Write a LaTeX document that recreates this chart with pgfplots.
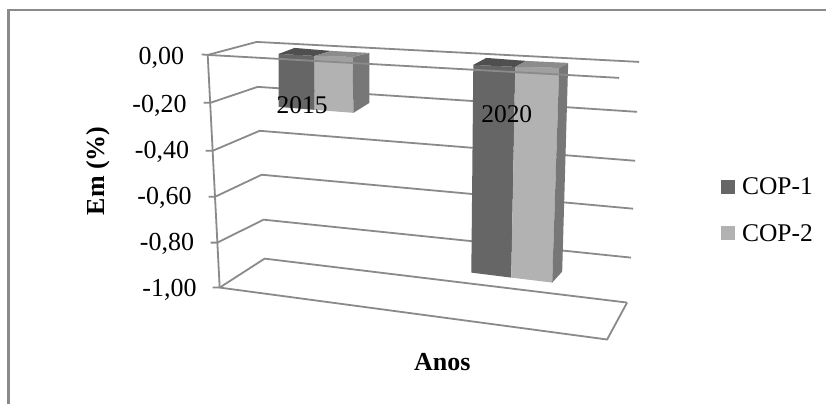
\documentclass[border=0pt]{standalone}
\usepackage{pgfplots}
\pgfplotsset{compat=1.18}
\usepackage{fontspec}
\setmainfont{Liberation Serif}
\definecolor{gridgray}{HTML}{8A8A8A}
\definecolor{copA}{HTML}{666666}
\definecolor{copAtop}{HTML}{4F4F4F}
\definecolor{copB}{HTML}{B2B2B2}
\definecolor{copBtop}{HTML}{8C8C8C}
\definecolor{copBband}{HTML}{A0A0A0}
\definecolor{sidegray}{HTML}{777777}
\pgfplotsset{
  wall/.style={draw=gridgray, line width=1.8pt, forget plot},
  face/.style={fill=#1, draw=none, forget plot},
}
\begin{document}
\begin{tikzpicture}
\begin{axis}[
  width=827pt, height=405pt, scale only axis,
  xmin=0, xmax=827, ymin=0, ymax=405, y dir=reverse,
  hide axis, clip=false,
  legend style={draw=none, fill=none, at={(axis cs:719,210.5)}, anchor=west,
    font=\fontsize{25.5}{25.5}\selectfont, row sep=24pt,
    /tikz/every even column/.append style={column sep=0pt}},
  legend cell align=left,
  legend image code/.code={\fill[#1, draw=none] (0pt,-7pt) rectangle (14pt,7pt);},
]
% canvas and outer frame
\addplot[fill=white, draw=none, forget plot] coordinates {(0,0) (827,0) (827,405) (0,405)} -- cycle;
\addplot[draw=gridgray, line width=2.4pt, forget plot] coordinates {(827,10) (8.5,10) (8.5,405)};

% back walls: one polyline per level, tick to side wall to back wall
\addplot[wall] coordinates {(202,54.5) (208,55) (257,42) (640,62)};
\addplot[wall] coordinates {(204,103) (210.5,103) (258,87) (638,112)};
\addplot[wall] coordinates {(206,151) (213,151) (260,131) (636,161)};
\addplot[wall] coordinates {(209,197) (215.5,197) (262,175) (634,209)};
\addplot[wall] coordinates {(211,243) (217.5,243) (264,220) (632,258)};
\addplot[wall] coordinates {(213,288) (220,288) (265,259) (628,303)};
% value axis and floor
\addplot[wall] coordinates {(208,55) (220,288)};
\addplot[wall] coordinates {(220,288) (608,340) (628,303)};

% 2015 column pair
\addplot[face=copA] coordinates {(279,54) (315,56) (315,110) (279,107)} -- cycle;
\addplot[face=copB] coordinates {(315,56) (353,57) (354,113) (315,110)} -- cycle;
\addplot[face=copBband] coordinates {(315,56) (353,57) (353,62) (315,60)} -- cycle;
\addplot[face=sidegray] coordinates {(353,57) (370,53) (370,103) (354,113)} -- cycle;
\addplot[face=copAtop] coordinates {(279,54) (295,48) (332,51) (315,56)} -- cycle;
\addplot[face=copBtop] coordinates {(315,56) (332,51) (370,53) (353,57)} -- cycle;

% 2020 column pair
\addplot[face=copA] coordinates {(474,65) (516,67) (512,278) (472,273)} -- cycle;
\addplot[face=copB] coordinates {(516,67) (560,68) (553,283) (512,278)} -- cycle;
\addplot[face=copBband] coordinates {(516,67) (560,68) (560,75) (516,72)} -- cycle;
\addplot[face=sidegray] coordinates {(560,68) (569,63) (563,272) (553,283)} -- cycle;
\addplot[face=copAtop] coordinates {(474,65) (487,58) (527,61) (516,67)} -- cycle;
\addplot[face=copBtop] coordinates {(516,67) (527,61) (569,63) (560,68)} -- cycle;

% front edge of the zero plane passes over the columns
\addplot[draw=gridgray, line width=1.8pt, forget plot] coordinates {(208,55) (620,78)};

% legend keys
\addlegendimage{fill=copA}
\addlegendentry{\hspace{5pt}COP-1}
\addlegendimage{fill=copB}
\addlegendentry{\hspace{5pt}COP-2}

% value labels follow the slant of the axis
\foreach \xx/\yy/\lab in {184.5/65/{0,00},187/113/{-0,20},189.5/158.5/{-0,40},192/205/{-0,60},194.5/251/{-0,80},197/296.5/{-1,00}}{
  \edef\temp{\noexpand\node[anchor=base east, font=\noexpand\fontsize{26}{26}\noexpand\selectfont, inner sep=0pt] at (axis cs:\xx,\yy) {\lab};}
  \temp
}
% category labels
\node[font=\fontsize{25.5}{25.5}\selectfont, inner sep=0pt] at (axis cs:302.5,105) {2015};
\node[font=\fontsize{25.5}{25.5}\selectfont, inner sep=0pt] at (axis cs:507.5,114) {2020};
% axis titles
\node[font=\fontsize{26}{26}\selectfont\bfseries, rotate=90, inner sep=0pt] at (axis cs:98,171) {Em (\%)};
\node[font=\fontsize{26}{26}\selectfont\bfseries, inner sep=0pt] at (axis cs:443,363) {Anos};
\end{axis}
\end{tikzpicture}
\end{document}
